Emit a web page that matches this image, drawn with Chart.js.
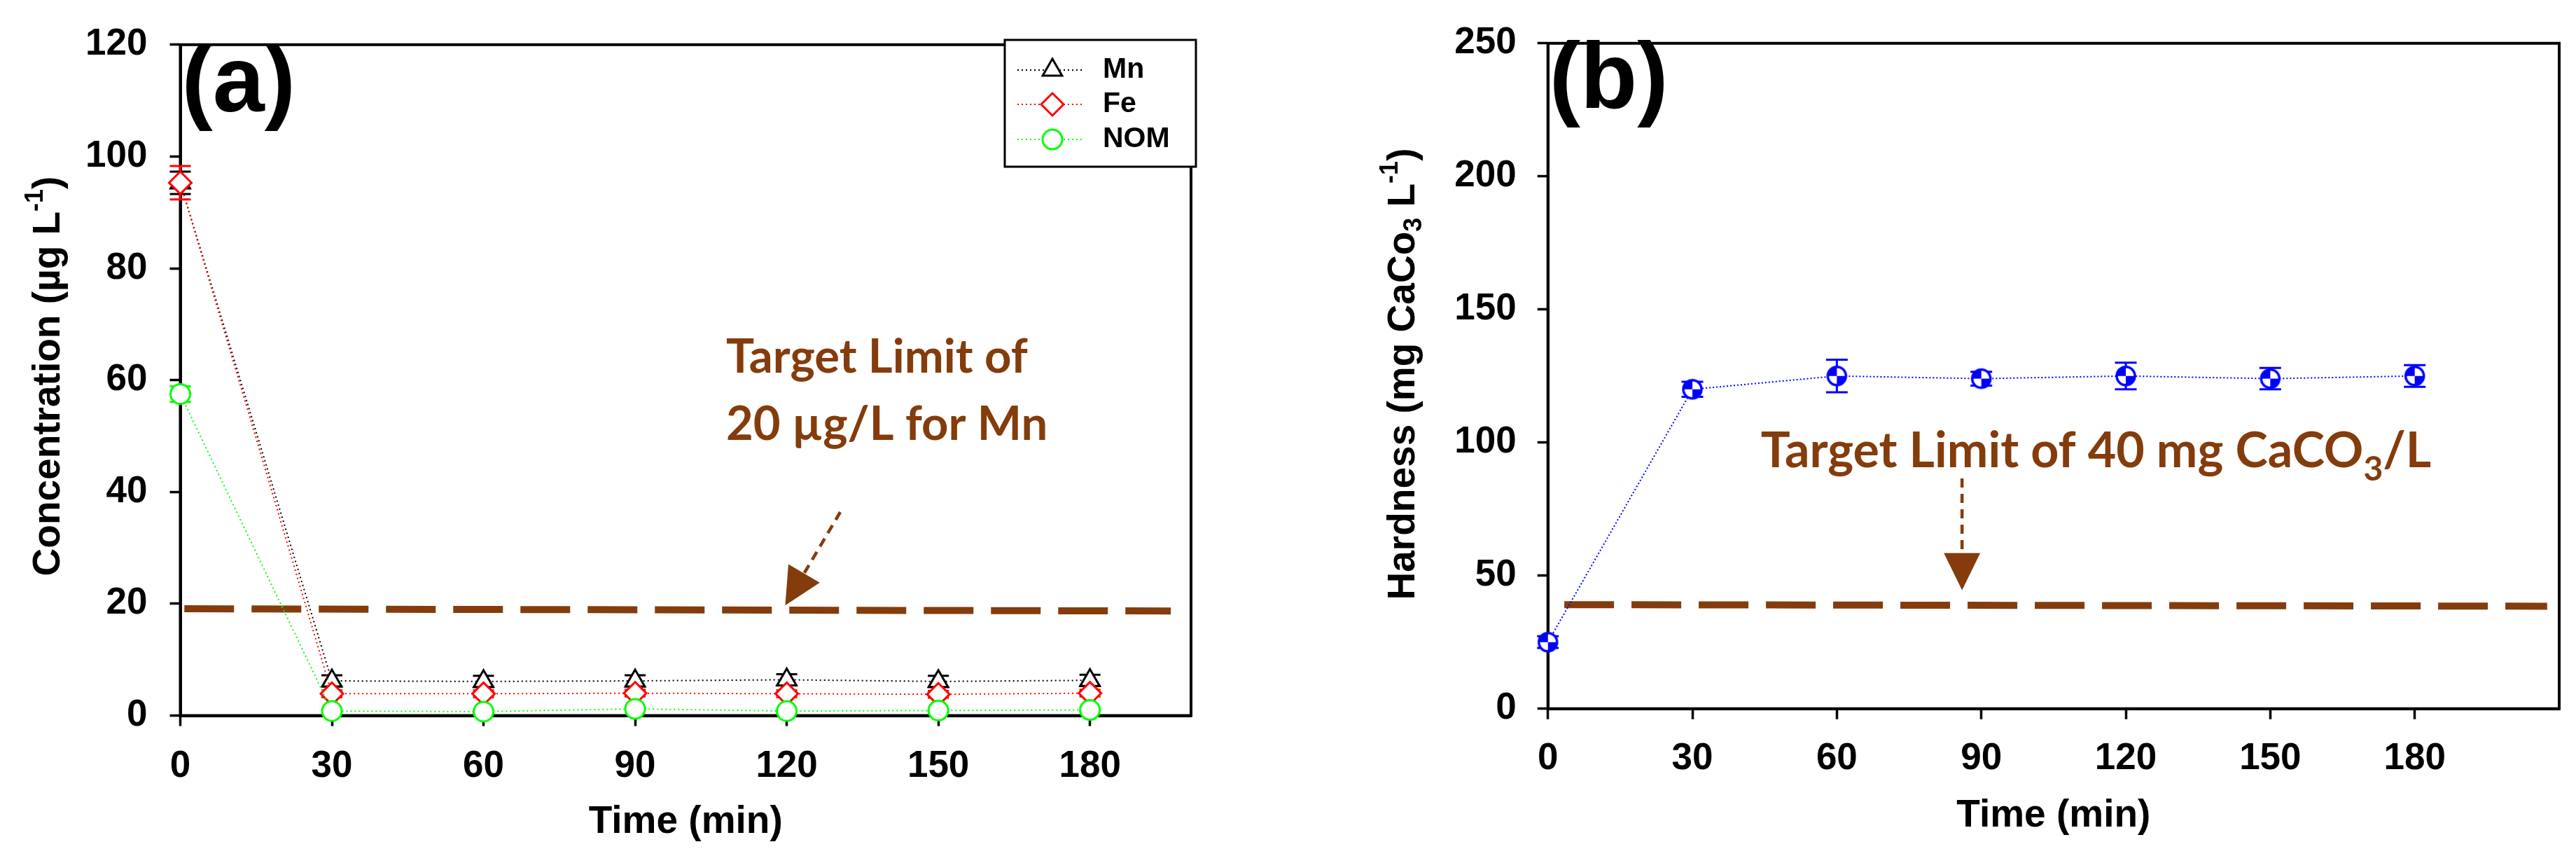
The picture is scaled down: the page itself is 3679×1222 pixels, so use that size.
<!DOCTYPE html>
<html>
<head>
<meta charset="utf-8">
<script src="https://cdn.jsdelivr.net/npm/chart.js@4.4.1/dist/chart.umd.min.js"></script>
<style>
  html, body { margin: 0; padding: 0; background: #fff; }
  #wrap { position: relative; width: 3679px; height: 1222px; background: #fff; overflow: hidden; }
  .panel { position: absolute; top: 0; height: 1222px; }
  #panelA { left: 0; width: 1840px; }
  #panelB { left: 1840px; width: 1839px; }
</style>
</head>
<body>
<div id="wrap">
  <div class="panel" id="panelA"><canvas id="chartA" width="1840" height="1222"></canvas></div>
  <div class="panel" id="panelB"><canvas id="chartB" width="1839" height="1222"></canvas></div>
</div>
<script>
// ─── DATA ───────────────────────────────────────────────────────────────────
const timeMin   = [0, 30, 60, 90, 120, 150, 180];

const mnConc    = [95.3, 6.2, 6.1, 6.2, 6.4, 6.1, 6.3];
const mnErr     = [2.0, 1.0, 1.0, 1.0, 1.0, 1.0, 1.0];
const feConc    = [95.3, 3.9, 3.9, 4.0, 3.9, 3.8, 4.0];
const feErr     = [3.0, 0.6, 0.6, 0.6, 0.6, 0.6, 0.6];
const nomConc   = [57.5, 0.8, 0.7, 1.2, 0.8, 0.9, 1.0];
const nomErr    = [1.4, 0.3, 0.3, 0.3, 0.3, 0.3, 0.3];

const hardness    = [25, 120, 125, 124, 125, 124, 125];
const hardnessErr = [2.2, 2.8, 6.1, 2.6, 5.0, 4.0, 4.1];

const xTicks  = [0, 30, 60, 90, 120, 150, 180];
const yTicksA = [0, 20, 40, 60, 80, 100, 120];
const yTicksB = [0, 50, 100, 150, 200, 250];

// target-limit dashed lines (x in min, y in axis units)
const limitAx = [0.8, 196];
const limitAy = [19.1, 18.7];
const limitBx = [3.4, 207.5];
const limitBy = [39.1, 38.5];

// annotation arrows: [start, tip]
const arrowAx = [130.6, 119.7];
const arrowAy = [36.4, 19.7];
const arrowBx = [86, 86];
const arrowBy = [86.5, 44.5];

// ─── STYLE ──────────────────────────────────────────────────────────────────
const FAMILY = "'Liberation Sans', Arial, Helvetica, sans-serif";
const NOTE_FAMILY = "Lato, 'Open Sans', sans-serif";
const BROWN = '#843C0C';

const pts = (xs, ys) => xs.map((x, i) => ({ x: x, y: ys[i] }));

function richWidth(ctx, parts, family) {
    let w = 0;
    parts.forEach(p => { ctx.font = `bold ${p.size}px ${family}`; w += ctx.measureText(p.text).width; });
    return w;
}
function drawRich(ctx, parts, x, y, family) {
    parts.forEach(p => {
        ctx.font = `bold ${p.size}px ${family}`;
        ctx.fillText(p.text, x, y + (p.dy || 0));
        x += ctx.measureText(p.text).width;
    });
}

function drawArrow(ctx, x1, y1, x2, y2) {
    const ang = Math.atan2(y2 - y1, x2 - x1);
    const headLen = 53, headHalf = 26;
    const bx = x2 - headLen * Math.cos(ang), by = y2 - headLen * Math.sin(ang);
    ctx.save();
    ctx.strokeStyle = BROWN; ctx.fillStyle = BROWN;
    ctx.lineWidth = 4.5; ctx.setLineDash([13, 9]);
    ctx.beginPath(); ctx.moveTo(x1, y1); ctx.lineTo(bx, by); ctx.stroke();
    ctx.setLineDash([]);
    ctx.beginPath();
    ctx.moveTo(x2, y2);
    ctx.lineTo(bx + headHalf * Math.sin(ang), by - headHalf * Math.cos(ang));
    ctx.lineTo(bx - headHalf * Math.sin(ang), by + headHalf * Math.cos(ang));
    ctx.closePath(); ctx.fill();
    ctx.restore();
}

// hardness marker: blue ring, two blue quadrants
function makeHardnessMarker() {
    const size = 36, m = size / 2, r = 13;
    const c = document.createElement('canvas');
    c.width = c.height = size;
    const g = c.getContext('2d');
    g.fillStyle = '#fff';
    g.beginPath(); g.arc(m, m, r, 0, 2 * Math.PI); g.fill();
    g.fillStyle = '#0000ff';
    g.beginPath(); g.moveTo(m, m); g.arc(m, m, r, Math.PI, 1.5 * Math.PI); g.closePath(); g.fill();
    g.beginPath(); g.moveTo(m, m); g.arc(m, m, r, 0, 0.5 * Math.PI); g.closePath(); g.fill();
    g.strokeStyle = '#0000ff'; g.lineWidth = 3.5;
    g.beginPath(); g.arc(m, m, r, 0, 2 * Math.PI); g.stroke();
    return c;
}

// ─── PLUGIN: frame, error bars, notes, legend, y title ──────────────────────
const decor = {
    id: 'decor',
    beforeDatasetsDraw(chart, args, o) {
        const { ctx, chartArea: a, scales: { x, y } } = chart;
        ctx.save();
        ctx.strokeStyle = '#000'; ctx.lineWidth = 4;
        ctx.strokeRect(a.left, a.top, a.right - a.left, a.bottom - a.top);
        // error bars, back to front
        const sets = chart.data.datasets.slice().sort((p, q) => (q.order || 0) - (p.order || 0));
        sets.forEach(ds => {
            if (!ds.errors) return;
            ctx.strokeStyle = ds.borderColor; ctx.lineWidth = 3; ctx.setLineDash([]);
            ds.data.forEach((p, j) => {
                const e = ds.errors[j];
                const px = x.getPixelForValue(p.x);
                const yt = y.getPixelForValue(p.y + e), yb = y.getPixelForValue(p.y - e);
                ctx.beginPath();
                ctx.moveTo(px, yt); ctx.lineTo(px, yb);
                ctx.moveTo(px - o.cap, yt); ctx.lineTo(px + o.cap, yt);
                ctx.moveTo(px - o.cap, yb); ctx.lineTo(px + o.cap, yb);
                ctx.stroke();
            });
        });
        ctx.restore();
    },
    afterDatasetsDraw(chart, args, o) {
        const { ctx, chartArea: a, scales: { x, y } } = chart;
        ctx.save();
        ctx.fillStyle = '#000';
        ctx.textBaseline = 'alphabetic';
        ctx.textAlign = 'left';

        // panel letter
        ctx.font = `bold 133px ${FAMILY}`;
        ctx.fillText(o.letter, a.left + 2, o.letterBaseline);

        // y-axis title, rotated, with sub/superscripts
        const tw = richWidth(ctx, o.yTitle, FAMILY);
        ctx.translate(o.yTitleX, o.yTitleY);
        ctx.rotate(-Math.PI / 2);
        drawRich(ctx, o.yTitle, -tw / 2, 0.358 * 55, FAMILY);
        ctx.setTransform(1, 0, 0, 1, 0, 0);

        // arrow
        drawArrow(ctx, x.getPixelForValue(o.arrowX[0]), y.getPixelForValue(o.arrowY[0]),
                       x.getPixelForValue(o.arrowX[1]), y.getPixelForValue(o.arrowY[1]));

        // brown notes
        ctx.fillStyle = BROWN;
        o.notes.forEach(n => drawRich(ctx, n.parts, x.getPixelForValue(n.x), y.getPixelForValue(n.y), NOTE_FAMILY));

        // legend box
        if (o.legend) {
            const L = o.legend;
            ctx.fillStyle = '#fff';
            ctx.fillRect(L.left, L.top, L.width, L.height);
            ctx.strokeStyle = '#000'; ctx.lineWidth = 3;
            ctx.strokeRect(L.left, L.top, L.width, L.height);
            const rows = chart.data.datasets.filter(d => d.inLegend);
            rows.forEach((d, i) => {
                const ry = L.rowY[i];
                ctx.strokeStyle = d.borderColor; ctx.lineWidth = 2; ctx.setLineDash(d.borderDash);
                ctx.beginPath(); ctx.moveTo(L.lineX0, ry); ctx.lineTo(L.lineX1, ry); ctx.stroke();
                ctx.setLineDash([]);
                ctx.fillStyle = '#fff'; ctx.strokeStyle = d.pointBorderColor; ctx.lineWidth = 3;
                Chart.helpers.drawPoint(ctx, { pointStyle: d.pointStyle, radius: d.pointRadius, borderWidth: 3, rotation: 0 }, L.markerX, ry);
                ctx.fillStyle = '#000';
                ctx.font = `bold 41px ${FAMILY}`;
                ctx.textBaseline = 'middle';
                ctx.fillText(d.label, L.textX, ry);
                ctx.textBaseline = 'alphabetic';
            });
        }
        ctx.restore();
    }
};

function axisX(max, tickPad, axisHeight, titlePad) {
    return {
        type: 'linear', min: 0, max: max,
        afterBuildTicks: s => { s.ticks = xTicks.map(v => ({ value: v })); },
        afterFit: s => { s.height = axisHeight; },
        grid: { drawOnChartArea: false, tickLength: 15, tickWidth: 3.5, tickColor: '#000' },
        border: { display: true, color: '#000', width: 4 },
        ticks: { autoSkip: false, maxRotation: 0, padding: tickPad, color: '#000',
                 font: { family: FAMILY, size: 53, weight: 'bold' } },
        title: { display: true, text: 'Time (min)', color: '#000',
                 font: { family: FAMILY, size: 55, weight: 'bold' }, padding: { top: 0, bottom: titlePad } }
    };
}
function axisY(min, max, ticks, tickPad, axisWidth) {
    return {
        min: min, max: max,
        afterBuildTicks: s => { s.ticks = ticks.map(v => ({ value: v })); },
        afterFit: s => { s.width = axisWidth; },
        grid: { drawOnChartArea: false, tickLength: 15, tickWidth: 3.5, tickColor: '#000' },
        border: { display: true, color: '#000', width: 4 },
        ticks: { padding: tickPad, color: '#000', font: { family: FAMILY, size: 53, weight: 'bold' } },
        title: { display: false }
    };
}

function series(label, xs, ys, errs, color, style, radius, order, bg) {
    return {
        label: label, data: pts(xs, ys), errors: errs, inLegend: true,
        borderColor: color, borderWidth: 2, borderDash: [2, 4],
        pointStyle: style, pointRadius: radius, pointBorderWidth: 3,
        pointBorderColor: color, pointBackgroundColor: bg || '#fff',
        order: order, clip: false, tension: 0
    };
}
function limitLine(xs, ys) {
    return {
        label: 'limit', data: pts(xs, ys), borderColor: BROWN, borderWidth: 10,
        borderDash: [71, 25], pointRadius: 0, order: 10, clip: false, borderCapStyle: 'butt'
    };
}

const common = {
    responsive: false, animation: false, devicePixelRatio: 1, events: [],
    plugins: { legend: { display: false }, tooltip: { enabled: false } }
};

// ─── PANEL (a) ──────────────────────────────────────────────────────────────
new Chart(document.getElementById('chartA'), {
    type: 'line',
    data: { datasets: [
        series('Mn',  timeMin, mnConc,  mnErr,  '#000000', 'triangle', 16, 3),
        series('Fe',  timeMin, feConc,  feErr,  '#ff0000', 'rectRot',  16, 2),
        series('NOM', timeMin, nomConc, nomErr, '#00ff00', 'circle',   14, 1),
        limitLine(limitAx, limitAy)
    ] },
    options: Object.assign({}, common, {
        layout: { padding: { left: 0, right: 139, top: 58.5, bottom: 0 } },
        scales: { x: axisX(200, 26, 200.5, 15), y: axisY(0, 120, yTicksA, 32, 257.5) },
        plugins: Object.assign({}, common.plugins, {
            decor: {
                cap: 15, letter: '(a)', letterBaseline: 159,
                yTitleX: 65, yTitleY: 537,
                yTitle: [ { text: 'Concentration (\u00b5g L', size: 55 },
                          { text: '-1', size: 36, dy: -24 },
                          { text: ')', size: 55 } ],
                arrowX: arrowAx, arrowY: arrowAy,
                notes: [
                    { x: 108.0, y: 61.3,  parts: [ { text: 'Target Limit of', size: 67 } ] },
                    { x: 108.0, y: 49.35, parts: [ { text: '20 \u00b5g/L for Mn', size: 67 } ] }
                ],
                legend: { left: 1435, top: 57, width: 273, height: 181,
                          rowY: [100, 149, 199], lineX0: 1453, lineX1: 1545, markerX: 1503, textX: 1575 }
            }
        })
    }),
    plugins: [decor]
});

// ─── PANEL (b) ──────────────────────────────────────────────────────────────
const hardMarker = makeHardnessMarker();
const hardSet = series('Hardness', timeMin, hardness, hardnessErr, '#0000ff', hardMarker, 14, 1, '#0000ff');
hardSet.inLegend = false;
hardSet.borderDash = [2, 3];

new Chart(document.getElementById('chartB'), {
    type: 'line',
    data: { datasets: [ hardSet, limitLine(limitBx, limitBy) ] },
    options: Object.assign({}, common, {
        layout: { padding: { left: 0, right: 24, top: 47.3, bottom: 0 } },
        scales: { x: axisX(210, 25, 210.3, 24), y: axisY(0, 250, yTicksB, 30, 370.7) },
        plugins: Object.assign({}, common.plugins, {
            decor: {
                cap: 15.5, letter: '(b)', letterBaseline: 154,
                yTitleX: 160, yTitleY: 534,
                yTitle: [ { text: 'Hardness (mg CaCo', size: 55 },
                          { text: '3', size: 36, dy: 10 },
                          { text: ' L', size: 55 },
                          { text: '-1', size: 36, dy: -24 },
                          { text: ')', size: 55 } ],
                arrowX: arrowBx, arrowY: arrowBy,
                notes: [
                    { x: 44.2, y: 90.8, parts: [ { text: 'Target Limit of 40 mg CaCO', size: 70 },
                                                 { text: '3', size: 48, dy: 19 },
                                                 { text: '/L', size: 70 } ] }
                ],
                legend: null
            }
        })
    }),
    plugins: [decor]
});
</script>
</body>
</html>
